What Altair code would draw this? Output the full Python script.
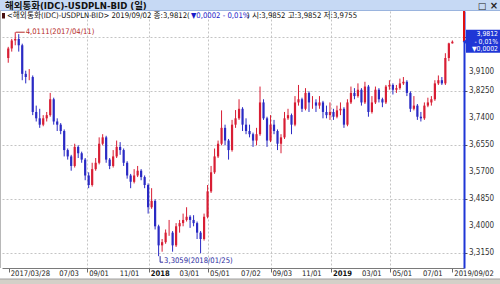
import altair as alt
import pandas as pd
from datetime import datetime, timezone

# ---------------- data (weekly candles) ----------------
week_dates = pd.date_range("2017-03-27", periods=128, freq="7D").strftime("%Y-%m-%d").tolist()
first_open = 3.93
closes = [
    3.960, 3.985, 3.990, 3.970, 3.880, 3.870, 3.870, 3.760, 3.740, 3.720,
    3.740, 3.750, 3.800, 3.730, 3.720, 3.700, 3.640, 3.620, 3.590, 3.650,
    3.630, 3.610, 3.560, 3.530, 3.580, 3.600, 3.660, 3.680, 3.610, 3.590,
    3.620, 3.650, 3.640, 3.600, 3.560, 3.540, 3.560, 3.575, 3.555, 3.530,
    3.460, 3.480, 3.400, 3.340, 3.350, 3.380, 3.380, 3.340, 3.400, 3.410,
    3.420, 3.430, 3.420, 3.410, 3.380, 3.360, 3.430, 3.510, 3.570, 3.620,
    3.660, 3.710, 3.670, 3.640, 3.720, 3.740, 3.770, 3.720, 3.700, 3.690,
    3.670, 3.690, 3.790, 3.740, 3.670, 3.720, 3.700, 3.660, 3.680, 3.740,
    3.750, 3.720, 3.790, 3.800, 3.770, 3.820, 3.790, 3.790, 3.780, 3.790,
    3.760, 3.750, 3.760, 3.745, 3.765, 3.770, 3.720, 3.790, 3.820, 3.810,
    3.830, 3.790, 3.840, 3.760, 3.790, 3.830, 3.800, 3.790, 3.840, 3.845,
    3.830, 3.835, 3.850, 3.855, 3.820, 3.770, 3.780, 3.745, 3.740, 3.780,
    3.790, 3.800, 3.850, 3.860, 3.850, 3.930, 3.976, 3.9812,
]
highs = [
    3.965, 3.990, 4.0111, 4.005, 3.975, 3.890, 3.895, 3.875, 3.780, 3.770,
    3.750, 3.760, 3.820, 3.805, 3.740, 3.725, 3.705, 3.645, 3.625, 3.660,
    3.655, 3.635, 3.615, 3.570, 3.600, 3.615, 3.680, 3.690, 3.685, 3.615,
    3.640, 3.670, 3.665, 3.645, 3.605, 3.565, 3.580, 3.590, 3.580, 3.560,
    3.535, 3.520, 3.485, 3.405, 3.360, 3.390, 3.420, 3.385, 3.410, 3.420,
    3.440, 3.460, 3.435, 3.435, 3.415, 3.385, 3.440, 3.530, 3.590, 3.645,
    3.670, 3.765, 3.720, 3.675, 3.735, 3.766, 3.800, 3.775, 3.740, 3.720,
    3.695, 3.710, 3.840, 3.800, 3.745, 3.750, 3.735, 3.705, 3.690, 3.760,
    3.770, 3.755, 3.810, 3.845, 3.805, 3.835, 3.825, 3.810, 3.800, 3.810,
    3.795, 3.780, 3.790, 3.770, 3.780, 3.790, 3.775, 3.800, 3.840, 3.835,
    3.850, 3.835, 3.855, 3.845, 3.810, 3.840, 3.835, 3.805, 3.845, 3.860,
    3.850, 3.845, 3.865, 3.870, 3.860, 3.825, 3.810, 3.785, 3.760, 3.790,
    3.805, 3.810, 3.860, 3.875, 3.870, 3.945, 3.978, 3.9852,
]
lows = [
    3.915, 3.950, 3.970, 3.950, 3.860, 3.850, 3.860, 3.750, 3.730, 3.710,
    3.715, 3.730, 3.745, 3.720, 3.700, 3.690, 3.620, 3.610, 3.575, 3.585,
    3.615, 3.600, 3.545, 3.520, 3.525, 3.575, 3.595, 3.655, 3.600, 3.580,
    3.585, 3.615, 3.625, 3.590, 3.550, 3.520, 3.535, 3.555, 3.545, 3.520,
    3.440, 3.455, 3.390, 3.3059, 3.320, 3.345, 3.370, 3.320, 3.335, 3.380,
    3.400, 3.415, 3.395, 3.400, 3.360, 3.315, 3.355, 3.425, 3.505, 3.565,
    3.615, 3.655, 3.655, 3.610, 3.635, 3.710, 3.735, 3.700, 3.690, 3.680,
    3.650, 3.655, 3.685, 3.735, 3.650, 3.665, 3.690, 3.640, 3.630, 3.675,
    3.735, 3.690, 3.715, 3.780, 3.760, 3.765, 3.760, 3.770, 3.760, 3.770,
    3.740, 3.740, 3.735, 3.735, 3.740, 3.750, 3.710, 3.715, 3.785, 3.800,
    3.805, 3.780, 3.785, 3.745, 3.755, 3.785, 3.790, 3.775, 3.785, 3.830,
    3.815, 3.820, 3.830, 3.845, 3.810, 3.760, 3.765, 3.735, 3.730, 3.735,
    3.775, 3.780, 3.795, 3.845, 3.845, 3.845, 3.920, 3.9755,
]
opens = [first_open] + closes[:-1]

last_price = 3.9812
max_point = {"date": "2017-04-11", "value": 4.0111, "label": "4,0111(2017/04/11)"}
min_point = {"date": "2018-01-25", "value": 3.3059, "label": "3,3059(2018/01/25)"}

x_tick_dates = ["2017-03-28", "2017-07-03", "2017-09-01", "2017-11-01", "2018-01-02",
                "2018-03-01", "2018-05-01", "2018-07-02", "2018-09-03", "2018-11-01",
                "2019-01-02", "2019-03-01", "2019-05-01", "2019-07-01", "2019-09-02"]
x_tick_labels = ["2017/03/28", "07/03", "09/01", "11/01", "2018", "03/01", "05/01", "07/02",
                 "09/03", "11/01", "2019", "03/01", "05/01", "07/01", "2019/09/02"]
x_bold_labels = ["2018", "2019"]
y_ticks = [3.315, 3.40, 3.485, 3.57, 3.655, 3.74, 3.825, 3.91, 3.995]
y_tick_labels = ["3,3150", "3,4000", "3,4850", "3,5700", "3,6550", "3,7400", "3,8250",
                 "3,9100", ""]

title_text = "해외통화(IDC)-USDPLN-BID (일)"
legend_part1 = "<해외통화(IDC)-USDPLN-BID> 2019/09/02 종:3,9812("
legend_part2 = "▼0,0002  - 0,01%"
legend_part3 = ") 시:3,9852 고:3,9852 저:3,9755"
box_lines = ["3,9812", "- 0,01%", "▼0,0002"]

# ---------------- styling ----------------
FONT = "DejaVu Sans Condensed, Noto Sans CJK KR, sans-serif"
UP = "#d81e34"
DOWN = "#2a2ac4"
AXIS_BLUE = "#1f36d6"
W, H = 462, 257

df = pd.DataFrame({"date": week_dates, "open": opens, "close": closes,
                   "high": highs, "low": lows})
one = pd.DataFrame({"k": [0]})
xl_df = pd.DataFrame({"date": x_tick_dates, "label": x_tick_labels,
                      "bold": [lab in x_bold_labels for lab in x_tick_labels]})
yl_df = pd.DataFrame({"value": y_ticks, "label": y_tick_labels})


def ms(iso):
    y, m, d = map(int, iso.split("-"))
    return int(datetime(y, m, d, tzinfo=timezone.utc).timestamp() * 1000)


nogrid_test = f"datum.value == {ms(x_tick_dates[0])} || datum.value == {ms(x_tick_dates[-1])}"

x_scale = alt.Scale(type="utc", domain=[
    alt.DateTime(year=2017, month=3, date=24, hours=12, utc=True),
    alt.DateTime(year=2019, month=9, date=15, hours=7, utc=True)])
y_scale = alt.Scale(domain=[3.2687, 4.0779], nice=False, zero=False)


def dt(iso):
    y, m, d = map(int, iso.split("-"))
    return alt.DateTime(year=y, month=m, date=d, utc=True)


x_axis = alt.Axis(
    values=[dt(d) for d in x_tick_dates], labels=False, title=None,
    grid=True, gridDash=[2, 2], gridColor="#c4c4c4",
    gridOpacity={"condition": {"test": nogrid_test, "value": 0}, "value": 1},
    domainColor="#7a7a7a", tickColor="#6a6a6a", tickSize=4,
)
y_axis = alt.Axis(
    orient="right", values=y_ticks, labels=False, title=None, grid=True, gridDash=[2, 2],
    gridColor="#c4c4c4", domainColor=AXIS_BLUE, domainWidth=2, tickColor="#555555",
    tickSize=3,
)

color = alt.condition("datum.close >= datum.open", alt.value(UP), alt.value(DOWN))

wicks = alt.Chart(df).mark_rule(strokeWidth=1).encode(
    x=alt.X("date:T", scale=x_scale, axis=x_axis),
    y=alt.Y("low:Q", scale=y_scale, axis=y_axis),
    y2="high:Q",
    color=color,
)
bodies = alt.Chart(df).mark_bar(size=2.2).encode(
    x="date:T", y="open:Q", y2="close:Q", color=color,
)

# axis tick labels drawn through the scales
x_labels = alt.Chart(xl_df).mark_text(
    align="left", baseline="top", dx=2, font=FONT, fontSize=7.6, color="#222222"
).encode(x="date:T", y=alt.value(H + 2), text="label:N").transform_filter("!datum.bold")
x_labels_bold = alt.Chart(xl_df).mark_text(
    align="left", baseline="top", dx=2, font=FONT, fontSize=7.6, fontWeight="bold",
    color="#111111"
).encode(x="date:T", y=alt.value(H + 2), text="label:N").transform_filter("datum.bold")
y_labels = alt.Chart(yl_df).mark_text(
    align="left", baseline="middle", font=FONT, fontSize=8, color="#333333"
).encode(x=alt.value(W + 5), y="value:Q", text="label:N").transform_filter("datum.value < 3.9")
y_labels_top = alt.Chart(yl_df).mark_text(
    align="left", baseline="middle", font=FONT, fontSize=8, color="#333333", dy=8
).encode(x=alt.value(W + 5), y="value:Q", text="label:N").transform_filter("datum.value >= 3.9")

# right axis: red part above the last price
red_axis = alt.Chart(one).mark_rule(color="#e01010", strokeWidth=2).encode(
    x=alt.value(W), y=alt.Y(datum=4.0779), y2=alt.Y2(datum=last_price))

price_box = alt.Chart(one).mark_rect(color=AXIS_BLUE, yOffset=-12, y2Offset=11).encode(
    x=alt.value(W + 2), x2=alt.value(W + 36), y=alt.Y(datum=last_price),
    y2=alt.Y2(datum=last_price))
price_ptr = alt.Chart(one).mark_point(shape="triangle-left", filled=True, size=30,
                                      color=AXIS_BLUE, opacity=1).encode(
    x=alt.value(W + 1), y=alt.Y(datum=last_price))
box_texts = []
for i, line in enumerate(box_lines):
    box_texts.append(alt.Chart(one).mark_text(
        text=line, color="white", font=FONT, fontSize=6.8, align="right",
        baseline="middle", dy=-7.5 + 7.5 * i).encode(
        x=alt.value(W + 34), y=alt.Y(datum=last_price)))

max_df = pd.DataFrame([max_point])
min_df = pd.DataFrame([min_point])
max_line = alt.Chart(max_df).mark_rule(color="#b42828", x2Offset=9).encode(
    x="date:T", x2="date:T", y="value:Q")
max_text = alt.Chart(max_df).mark_text(color="#b42828", align="left", baseline="middle",
                                       dx=10, font=FONT, fontSize=7.6).encode(
    x="date:T", y="value:Q", text="label:N")
min_v = alt.Chart(min_df).mark_rule(color="#2a2aa0", y2Offset=6).encode(
    x="date:T", y="value:Q", y2="value:Q")
min_h = alt.Chart(min_df).mark_rule(color="#2a2aa0", x2Offset=3, yOffset=6).encode(
    x="date:T", x2="date:T", y="value:Q")
min_text = alt.Chart(min_df).mark_text(color="#2a2aa0", align="left", baseline="middle",
                                       dx=4, dy=5, font=FONT, fontSize=7.6).encode(
    x="date:T", y="value:Q", text="label:N")

# window title bar and legend line
title_bg = alt.Chart(one).mark_rect(color="#c6d9f4").encode(
    x=alt.value(-2), x2=alt.value(W + 36), y=alt.value(-11), y2=alt.value(-1))
title_line = alt.Chart(one).mark_rule(color="#9ab4de").encode(
    x=alt.value(-2), x2=alt.value(W + 36), y=alt.value(-0.5))
title = alt.Chart(one).mark_text(text=title_text, font=FONT, fontSize=9.5, fontWeight="bold",
                                 align="left", baseline="middle", color="#111111").encode(
    x=alt.value(3), y=alt.value(-5.5))
icon1 = alt.Chart(one).mark_text(text="□", font="DejaVu Sans", fontSize=9, align="center",
                                 baseline="middle", color="#222").encode(
    x=alt.value(W + 18), y=alt.value(-5.5))
icon2 = alt.Chart(one).mark_text(text="×", font="DejaVu Sans", fontSize=10, fontWeight="bold",
                                 align="center", baseline="middle", color="#222").encode(
    x=alt.value(W + 30), y=alt.value(-5.5))
marker = alt.Chart(one).mark_rect(color="#4a1010").encode(
    x=alt.value(0), x2=alt.value(3), y=alt.value(2), y2=alt.value(7.5))
leg1 = alt.Chart(one).mark_text(text=legend_part1, font=FONT, fontSize=7.7, align="left",
                                baseline="middle", color="#111").encode(
    x=alt.value(5), y=alt.value(4.8))
leg2 = alt.Chart(one).mark_text(text=legend_part2, font=FONT, fontSize=7.7, align="left",
                                baseline="middle", color="#1a1ac8").encode(
    x=alt.value(189), y=alt.value(4.8))
leg3 = alt.Chart(one).mark_text(text=legend_part3, font=FONT, fontSize=7.7, align="left",
                                baseline="middle", color="#111").encode(
    x=alt.value(245), y=alt.value(4.8))

left_border = alt.Chart(one).mark_rule(color="#b8b8b8").encode(
    x=alt.value(-1.5), y=alt.value(-1), y2=alt.value(H))
bottom_strip = alt.Chart(one).mark_rect(color="#d4d0c8").encode(
    x=alt.value(-2), x2=alt.value(W + 36), y=alt.value(H + 11), y2=alt.value(H + 16))
bottom_line = alt.Chart(one).mark_rule(color="#a0a0a0").encode(
    x=alt.value(-2), x2=alt.value(W + 36), y=alt.value(H + 11))

chart = alt.layer(
    wicks, bodies, x_labels, x_labels_bold, y_labels, y_labels_top,
    red_axis, max_line, max_text, min_v, min_h, min_text,
    price_box, price_ptr, *box_texts,
    title_bg, title_line, title, icon1, icon2, marker, leg1, leg2, leg3,
    left_border, bottom_strip, bottom_line,
).properties(
    width=W, height=H,
    padding={"left": 2, "top": 11, "right": 36, "bottom": 16},
    autosize=alt.AutoSizeParams(type="none"),
    background="white",
).configure_view(stroke=None)

chart.save("out.html", embed_options={"renderer": "svg", "actions": False})
